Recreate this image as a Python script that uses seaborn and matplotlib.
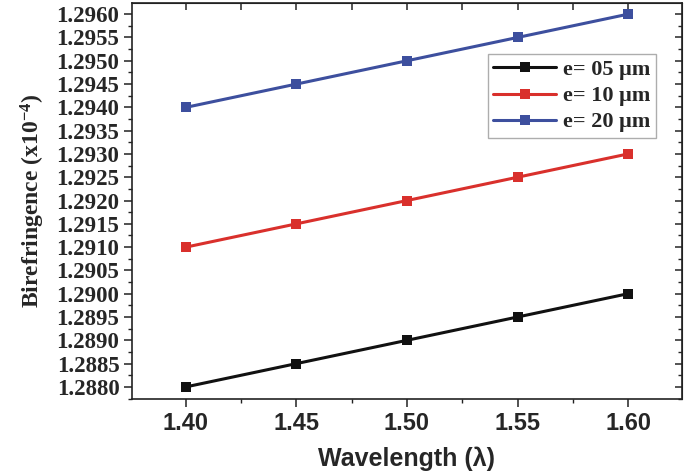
import matplotlib
matplotlib.use("Agg")
import matplotlib.pyplot as plt
import seaborn as sns
import pandas as pd
from matplotlib.ticker import MultipleLocator, FormatStrFormatter

wavelength = [1.40, 1.45, 1.50, 1.55, 1.60]
e05 = [1.2880, 1.2885, 1.2890, 1.2895, 1.2900]
e10 = [1.2910, 1.2915, 1.2920, 1.2925, 1.2930]
e20 = [1.2940, 1.2945, 1.2950, 1.2955, 1.2960]
labels = ["e= 05 \u03bcm", "e= 10 \u03bcm", "e= 20 \u03bcm"]
colors = ["#111111", "#d9302c", "#3d4f9e"]

rows = []
for lab, vals in zip(labels, [e05, e10, e20]):
    for x, y in zip(wavelength, vals):
        rows.append({"wl": x, "bir": y, "series": lab})
df = pd.DataFrame(rows)

sns.set_style("ticks")
plt.rcParams["mathtext.fontset"] = "custom"
plt.rcParams["mathtext.rm"] = "Liberation Serif:bold"
plt.rcParams["mathtext.it"] = "Liberation Serif:bold"
plt.rcParams["mathtext.bf"] = "Liberation Serif:bold"
plt.rcParams["axes.unicode_minus"] = False

fig = plt.figure(figsize=(6.85, 4.75), dpi=100)
ax = fig.add_axes([0.1927, 0.16, 0.8029, 0.8337])

sns.lineplot(data=df, x="wl", y="bir", hue="series", style="series",
             palette=dict(zip(labels, colors)), markers=["s", "s", "s"],
             dashes=False, linewidth=2.2, markersize=7, markeredgewidth=0,
             ax=ax)

ax.set_xlim(1.3756, 1.6244)
ax.set_ylim(1.28774, 1.29624)
ax.xaxis.set_major_locator(MultipleLocator(0.05))
ax.xaxis.set_minor_locator(MultipleLocator(0.025))
ax.yaxis.set_major_locator(MultipleLocator(0.0005))
ax.yaxis.set_minor_locator(MultipleLocator(0.00025))
ax.xaxis.set_major_formatter(FormatStrFormatter("%.2f"))
ax.yaxis.set_major_formatter(FormatStrFormatter("%.4f"))

for s in ax.spines.values():
    s.set_linewidth(1.2)
    s.set_color("#222222")
    s.set_visible(True)

ax.tick_params(axis="both", which="major", direction="out", length=6, width=1.1,
               color="#222222", pad=3)
ax.tick_params(axis="both", which="minor", direction="out", length=3, width=1.0,
               color="#222222")
secx = ax.secondary_xaxis("top")
secx.xaxis.set_major_locator(MultipleLocator(0.05))
secx.xaxis.set_minor_locator(MultipleLocator(0.025))
secx.tick_params(which="both", direction="in", length=5, labeltop=False, width=1.1)
secy = ax.secondary_yaxis("right")
secy.yaxis.set_major_locator(MultipleLocator(0.0005))
secy.yaxis.set_minor_locator(MultipleLocator(0.00025))
secy.tick_params(which="major", direction="in", length=5, labelright=False, width=1.1)
secy.tick_params(which="minor", direction="in", length=3, labelright=False, width=1.0)

for t in ax.get_xticklabels():
    t.set_fontfamily("Liberation Sans")
    t.set_fontweight("bold")
    t.set_fontsize(17)
for t in ax.get_yticklabels():
    t.set_fontfamily("Liberation Serif")
    t.set_fontweight("bold")
    t.set_fontsize(16.5)

ax.set_xlabel("Wavelength (\u03bb)", fontfamily="Liberation Sans", fontweight="bold",
              fontsize=18, labelpad=9)
ax.set_ylabel(r"Birefringence (x10$\mathbf{^{-4}}$)", fontfamily="Liberation Serif",
              fontweight="bold", fontsize=17, labelpad=7)

handles, labs = ax.get_legend_handles_labels()
leg = ax.legend(handles, labs, loc="upper left", bbox_to_anchor=(0.647, 0.871),
                frameon=True, fancybox=False, edgecolor="#999999",
                prop={"family": "Liberation Serif", "weight": "bold", "size": 16},
                handlelength=2.8, handletextpad=0.35, borderpad=0.25,
                labelspacing=0.25, borderaxespad=0)
leg.get_frame().set_linewidth(1.0)

fig.savefig("out.png", dpi=100)
